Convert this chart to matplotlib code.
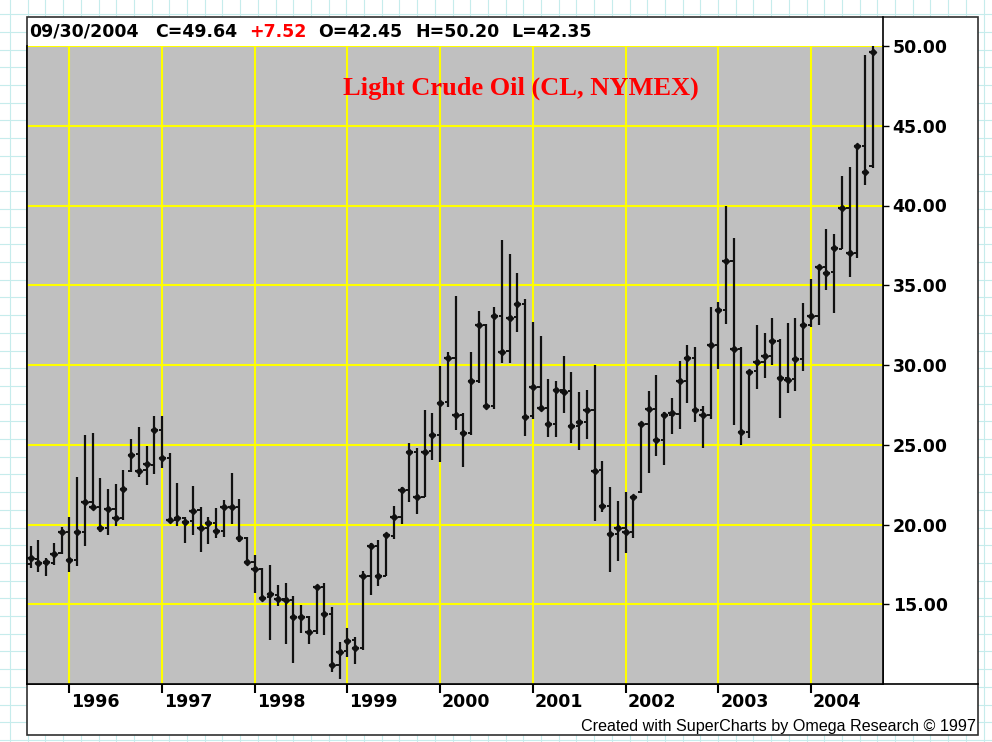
import matplotlib
matplotlib.use('Agg')
import matplotlib.pyplot as plt
import matplotlib.transforms as mtransforms
from matplotlib.patches import Rectangle
import numpy as np
import pandas as pd

# monthly bars, Aug 1995 .. Sep 2004
first_month = '1995-08-01'
opens = [17.55, 17.85, 17.60, 17.60, 18.20,
         19.50, 17.75, 19.55, 21.40, 21.10, 19.80, 20.95, 20.40, 23.35, 24.40, 23.40, 23.75,
         25.90, 24.15, 20.30, 20.40, 20.20, 20.90, 19.80, 20.10, 19.60, 21.10, 21.10, 19.15,
         17.65, 17.20, 15.45, 15.60, 15.35, 15.25, 14.20, 14.20, 13.30, 16.10, 14.40, 11.20,
         12.05, 12.75, 12.25, 16.80, 18.65, 16.80, 19.30, 20.50, 22.15, 24.55, 21.75, 24.60,
         25.60, 27.65, 30.45, 26.85, 25.75, 29.00, 32.50, 27.40, 33.05, 30.85, 33.00, 33.85,
         26.80, 28.60, 27.30, 26.30, 28.45, 28.35, 26.20, 26.40, 27.15, 23.40, 21.15, 19.40,
         19.80, 19.50, 22.06, 26.30, 27.25, 25.30, 26.85, 26.95, 29.00, 30.45, 27.20, 26.85,
         31.25, 33.45, 36.55, 31.00, 25.80, 29.60, 30.20, 30.55, 31.50, 29.20, 29.10, 30.35,
         32.50, 33.05, 36.15, 35.80, 37.30, 39.85, 37.05, 43.75, 42.45]
highs = [18.67, 19.03, 17.90, 18.86, 19.83,
         20.49, 23.00, 25.63, 25.72, 22.90, 22.22, 22.51, 23.42, 25.34, 26.13, 24.94, 26.80,
         26.80, 24.46, 22.62, 20.45, 22.43, 21.12, 20.49, 21.01, 21.54, 23.21, 21.58, 19.20,
         18.09, 17.25, 17.46, 16.21, 16.31, 15.52, 14.95, 14.26, 16.19, 16.31, 14.85, 12.65,
         13.53, 12.93, 17.10, 18.86, 19.03, 19.45, 21.16, 22.37, 25.13, 24.78, 27.18, 26.97,
         29.96, 30.83, 34.33, 27.00, 30.83, 33.41, 32.60, 33.66, 37.84, 36.96, 35.79, 34.14,
         32.70, 31.82, 29.10, 29.02, 30.56, 29.58, 28.33, 28.43, 30.00, 23.98, 22.33, 21.47,
         22.06, 21.85, 26.38, 28.37, 29.40, 27.07, 27.95, 30.27, 31.25, 31.15, 27.43, 33.66,
         33.97, 39.99, 37.94, 31.10, 29.69, 32.51, 32.03, 32.93, 31.60, 32.61, 32.93, 33.87,
         35.37, 36.27, 38.51, 38.21, 41.85, 42.43, 43.79, 49.44, 50.20]
lows = [17.25, 17.04, 16.77, 17.46, 18.15,
        17.00, 17.42, 18.67, 20.90, 19.55, 19.34, 19.93, 20.28, 23.30, 23.00, 22.48, 23.17,
        23.52, 20.18, 19.91, 18.86, 19.34, 18.30, 18.78, 19.13, 19.20, 20.03, 18.92, 17.46,
        15.69, 15.27, 12.76, 14.89, 12.49, 11.30, 13.18, 12.51, 13.13, 13.07, 10.77, 10.30,
        11.71, 11.25, 12.13, 15.58, 16.14, 16.75, 19.07, 20.03, 21.41, 20.64, 21.70, 24.04,
        23.94, 27.39, 25.92, 23.62, 25.61, 28.86, 27.28, 27.22, 30.10, 30.10, 32.05, 25.55,
        26.60, 27.30, 25.47, 25.47, 27.01, 25.09, 24.67, 25.34, 20.24, 20.76, 17.04, 17.73,
        18.19, 19.13, 22.00, 23.25, 24.29, 23.73, 25.67, 25.97, 27.60, 26.45, 24.82, 26.60,
        29.75, 32.57, 26.24, 24.98, 25.40, 28.48, 29.16, 30.00, 26.66, 28.23, 28.39, 29.64,
        32.40, 32.50, 34.70, 33.24, 37.25, 35.54, 36.69, 41.29, 42.35]
closes = [17.88, 17.57, 17.65, 18.15, 19.51,
          17.75, 19.51, 21.43, 21.12, 19.80, 20.97, 20.39, 22.21, 24.36, 23.37, 23.77, 25.90,
          24.15, 20.28, 20.39, 20.18, 20.87, 19.80, 20.07, 19.59, 21.12, 21.08, 19.13, 17.65,
          17.19, 15.41, 15.62, 15.33, 15.27, 14.18, 14.18, 13.28, 16.10, 14.37, 11.19, 12.02,
          12.72, 12.24, 16.77, 18.65, 16.77, 19.34, 20.49, 22.14, 24.55, 21.72, 24.55, 25.61,
          27.64, 30.46, 26.86, 25.72, 29.00, 32.49, 27.43, 33.05, 30.83, 32.97, 33.84, 26.76,
          28.60, 27.32, 26.30, 28.43, 28.33, 26.18, 26.41, 27.15, 23.37, 21.16, 19.40, 19.80,
          19.51, 21.74, 26.28, 27.24, 25.30, 26.86, 26.97, 29.00, 30.46, 27.18, 26.86, 31.25,
          33.45, 36.54, 31.02, 25.78, 29.58, 30.17, 30.56, 31.52, 29.20, 29.06, 30.36, 32.51,
          33.05, 36.16, 35.79, 37.32, 39.86, 37.04, 43.73, 42.12, 49.64]

price_ticks = [15, 20, 25, 30, 35, 40, 45, 50]
header = [('09/30/2004', 'black'), ('C=49.64', 'black'), ('+7.52', 'red'),
          ('O=42.45', 'black'), ('H=50.20', 'black'), ('L=42.35', 'black')]
header_x = [29, 155, 249, 318, 415, 511]
title = 'Light Crude Oil (CL, NYMEX)'
footer = 'Created with SuperCharts by Omega Research \u00a9 1997'

dates = pd.date_range(first_month, periods=len(closes), freq='MS')
x = np.arange(len(closes))
jan_idx = x[dates.month == 1]
year_labels = [str(d.year) for d in dates[dates.month == 1]]

W, H = 992, 742
fig = plt.figure(figsize=(W / 100, H / 100), dpi=100)

# background in pixel coords: graph paper + white panel
bg = fig.add_axes([0, 0, 1, 1])
bg.set_xlim(0, W)
bg.set_ylim(H, 0)
bg.axis('off')
for gx in np.arange(10, W, 17.7):
    bg.axvline(gx, color='#c6ecec', lw=0.8, zorder=0)
for gy in np.arange(740, 0, -17.7):
    bg.axhline(gy, color='#c6ecec', lw=0.8, zorder=0)
bg.add_patch(Rectangle((27, 17), 951, 718, facecolor='white', edgecolor='#303030', lw=1.2, zorder=1))
bg.plot([883, 883], [17, 684], color='black', lw=1.2, zorder=2)
bg.plot([27, 978], [684, 684], color='black', lw=1.2, zorder=2)

for (txt, col), hx in zip(header, header_x):
    bg.text(hx, 32, txt, color=col, fontsize=12.5, fontweight='bold', ha='left', va='center', zorder=3)
bg.text(976, 726, footer, fontsize=11.6, family='Liberation Sans', ha='right', va='center', zorder=3)

# main price chart
ax = fig.add_axes([27 / W, 1 - 684 / H, (883 - 27) / W, (684 - 46) / H])
ax.set_facecolor('#c0c0c0')
ax.set_xlim(-0.48, 110.33)
ax.set_ylim(10, 50)
ax.spines['top'].set_visible(False)
for s in ['left', 'right', 'bottom']:
    ax.spines[s].set_color('black')
    ax.spines[s].set_linewidth(1.2)

for p in price_ticks:
    ax.axhline(p, color='#ffff00', lw=1.5, zorder=1)
for j in jan_idx:
    ax.axvline(j, color='#ffff00', lw=1.5, zorder=1)

bar_col = '#111111'
ax.vlines(x, lows, highs, color=bar_col, lw=1.6, zorder=3)
ax.hlines(opens, x - 0.42, x, color=bar_col, lw=1.4, zorder=3)
ax.hlines(closes, x - 0.45, x + 0.45, color=bar_col, lw=1.6, zorder=4)
ax.plot(x, closes, 'D', ms=3.2, color=bar_col, zorder=5)

ax.yaxis.tick_right()
ax.set_yticks(price_ticks)
ax.set_yticklabels([f'{p:.2f}' for p in price_ticks], fontweight='bold', fontsize=12.5)
ax.tick_params(axis='y', length=4.5, width=1, pad=2.5, colors='black', left=False)

ax.set_xticks(jan_idx)
ax.set_xticklabels([])
ax.tick_params(axis='x', length=6.5, width=1.5, direction='out')
trans = mtransforms.blended_transform_factory(ax.transData, ax.transAxes)
for j, lab in zip(jan_idx, year_labels):
    ax.text(j + 0.25, -18 / 638, lab, transform=trans, fontsize=12.5, fontweight='bold',
            ha='left', va='center', clip_on=False)

# chart title sits on top of the price area
fig.text(521 / W, 1 - 88 / H, title, color='#ff0000', fontsize=19, fontweight='bold',
         family='Liberation Serif', ha='center', va='center', zorder=10)

fig.savefig('out.png', dpi=100)
